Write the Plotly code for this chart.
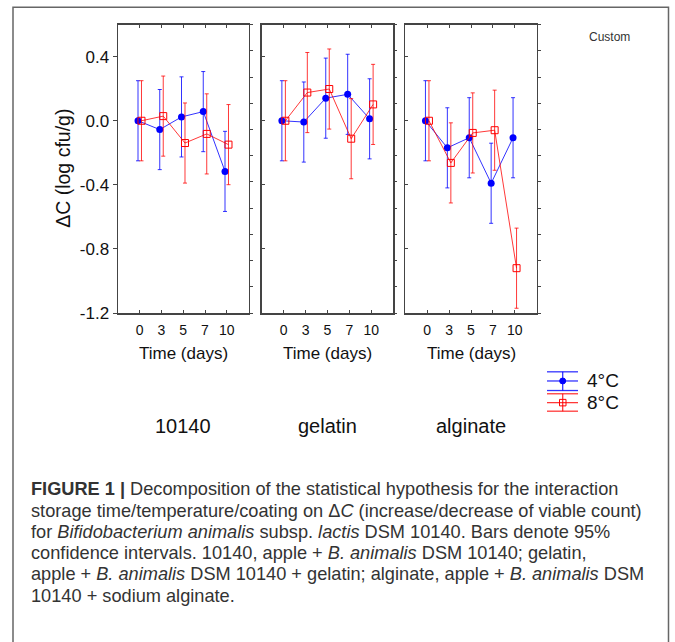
import plotly.graph_objects as go

# ---------------- data ----------------
days = ["0", "3", "5", "7", "10"]
coatings = ["10140", "gelatin", "alginate"]

dc_4C_10140 = [0.0, -0.055, 0.024, 0.057, -0.316]
dc_8C_10140 = [0.0, 0.029, -0.139, -0.082, -0.149]
dc_4C_gelatin = [0.0, -0.008, 0.141, 0.165, 0.012]
dc_8C_gelatin = [0.0, 0.176, 0.198, -0.112, 0.102]
dc_4C_alginate = [0.0, -0.169, -0.106, -0.390, -0.106]
dc_8C_alginate = [0.0, -0.263, -0.076, -0.059, -0.920]
ci95 = [0.25, 0.25, 0.25, 0.25, 0.25]

y_ticks = [-1.2, -0.8, -0.4, 0.0, 0.4]
y_tick_labels = ["-1.2", "-0.8", "-0.4", "0.0", "0.4"]

series_labels = ["4°C", "8°C"]

caption_lines = [
    "<b>FIGURE 1 |</b> Decomposition of the statistical hypothesis for the interaction",
    "storage time/temperature/coating on Δ<i>C</i> (increase/decrease of viable count)",
    "for <i>Bifidobacterium animalis</i> subsp. <i>lactis</i> DSM 10140. Bars denote 95%",
    "confidence intervals. 10140, apple + <i>B. animalis</i> DSM 10140; gelatin,",
    "apple + <i>B. animalis</i> DSM 10140 + gelatin; alginate, apple + <i>B. animalis</i> DSM",
    "10140 + sodium alginate.",
]

# ---------------- layout helpers ----------------
W, H = 675, 642
FONT = "Arial, Liberation Sans, sans-serif"
BLUE = "#0000ff"
BLUE_L = "rgba(0,0,255,0.8)"
RED = "#ff0000"
RED_L = "rgba(255,0,0,0.78)"
FRAME = "#444444"


def px(x):
    return x / W


def py(y):
    return 1 - y / H


panel_px = [(118, 248.5), (261.7, 393.3), (405.3, 536.7)]
y_dom = [py(318), py(25)]

values_4 = [dc_4C_10140, dc_4C_gelatin, dc_4C_alginate]
values_8 = [dc_8C_10140, dc_8C_gelatin, dc_8C_alginate]

fig = go.Figure()
idx = list(range(len(days)))
off = 0.08

layout_axes = {}
for k in range(3):
    sfx = "" if k == 0 else str(k + 1)
    xa, ya = "x" + sfx, "y" + sfx
    fig.add_trace(go.Scatter(
        x=[i - off for i in idx], y=values_4[k], mode="lines+markers",
        line=dict(color=BLUE_L, width=1),
        marker=dict(symbol="circle", size=7, color=BLUE),
        error_y=dict(type="data", array=ci95, color=BLUE_L, thickness=1, width=2),
        xaxis=xa, yaxis=ya, showlegend=False, name=series_labels[0]))
    fig.add_trace(go.Scatter(
        x=[i + off for i in idx], y=values_8[k], mode="lines+markers",
        line=dict(color=RED_L, width=1),
        marker=dict(symbol="square-open", size=7, color=RED, line=dict(width=1, color=RED)),
        error_y=dict(type="data", array=ci95, color=RED_L, thickness=1, width=2),
        xaxis=xa, yaxis=ya, showlegend=False, name=series_labels[1]))
    # right-side tick axis (11 divisions)
    rname = "y" + str(k + 4)
    fig.add_trace(go.Scatter(x=[None], y=[None], xaxis=xa, yaxis=rname,
                             showlegend=False, hoverinfo="skip"))

    x0, x1 = panel_px[k]
    layout_axes["xaxis" + sfx] = dict(
        domain=[px(x0), px(x1)], range=[-1, 5], anchor=ya,
        tickvals=idx, ticktext=days, ticks="inside", ticklen=3,
        tickcolor=FRAME, tickwidth=1,
        showline=True, linecolor=FRAME, linewidth=1.5, mirror="ticks",
        showgrid=False, zeroline=False, fixedrange=True,
        tickfont=dict(family=FONT, size=14, color="#111"),
        ticklabelstandoff=4)
    ycfg = dict(
        domain=y_dom, range=[-1.2, 0.6], anchor=xa,
        tickvals=y_ticks, ticktext=y_tick_labels,
        showline=True, linecolor=FRAME, linewidth=1.5, mirror=True,
        showgrid=False, zeroline=False, tickcolor=FRAME, tickwidth=1,
        fixedrange=True,
        tickfont=dict(family=FONT, size=17, color="#111"))
    if k == 0:
        ycfg.update(ticks="outside", ticklen=4, showticklabels=True)
    else:
        ycfg.update(ticks="inside", ticklen=3, showticklabels=False)
    layout_axes["yaxis" + sfx] = ycfg
    layout_axes["yaxis" + str(k + 4)] = dict(
        overlaying=ya, anchor=xa, side="right", range=[0, 11], dtick=1,
        ticks="outside", ticklen=3, tickcolor=FRAME, tickwidth=1, fixedrange=True,
        showticklabels=False, showline=False, showgrid=False, zeroline=False)

annotations = []
# y-axis title
annotations.append(dict(x=px(63), y=py(171.5), xref="paper", yref="paper",
                        text="ΔC (log cfu/g)", textangle=-90, showarrow=False,
                        font=dict(family=FONT, size=19.5, color="#111"),
                        xanchor="center", yanchor="middle"))
for k in range(3):
    cx = (panel_px[k][0] + panel_px[k][1]) / 2
    annotations.append(dict(x=px(cx), y=py(359), xref="paper", yref="paper",
                            text="Time (days)", showarrow=False,
                            font=dict(family=FONT, size=17, color="#111"),
                            xanchor="center", yanchor="middle"))
    annotations.append(dict(x=px(cx), y=py(433), xref="paper", yref="paper",
                            text=coatings[k], showarrow=False,
                            font=dict(family=FONT, size=20, color="#111"),
                            xanchor="center", yanchor="middle"))
# legend texts
for lab, yy in zip(series_labels, [387, 409]):
    annotations.append(dict(x=px(585), y=py(yy), xref="paper", yref="paper",
                            text=lab, showarrow=False,
                            font=dict(family=FONT, size=19, color="#111"),
                            xanchor="left", yanchor="middle"))
# "Custom" label
annotations.append(dict(x=px(587), y=py(37.5), xref="paper", yref="paper",
                        text="Custom", showarrow=False,
                        font=dict(family=FONT, size=12, color="#333"),
                        xanchor="left", yanchor="middle"))
# caption, one annotation per line
for j, line in enumerate(caption_lines):
    annotations.append(dict(x=px(29), y=py(497 + 21.6 * j), xref="paper", yref="paper",
                            text=line, showarrow=False, align="left",
                            font=dict(family=FONT, size=18.2, color="#333"),
                            xanchor="left", yanchor="middle"))

shapes = []
# outer figure frame
shapes.append(dict(type="rect", xref="paper", yref="paper",
                   x0=px(13), x1=px(668.5), y0=py(680), y1=py(7.3),
                   line=dict(color="#666666", width=1.5)))
# legend symbols
for (yt, yc, yb), lc, mc, filled in [((377.7, 387, 396.7), BLUE_L, BLUE, True),
                                     ((400, 409, 417.7), RED_L, RED, False)]:
    for yy in (yt, yc, yb):
        shapes.append(dict(type="line", xref="paper", yref="paper",
                           x0=px(547), x1=px(578), y0=py(yy), y1=py(yy),
                           line=dict(color=lc, width=1.3)))
    shapes.append(dict(type="line", xref="paper", yref="paper",
                       x0=px(562.7), x1=px(562.7), y0=py(yt), y1=py(yb),
                       line=dict(color=lc, width=1.3)))
    if filled:
        shapes.append(dict(type="circle", xref="paper", yref="paper",
                           x0=px(559.7), x1=px(565.7), y0=py(390), y1=py(384),
                           fillcolor=mc, line=dict(color=mc, width=1)))
    else:
        shapes.append(dict(type="rect", xref="paper", yref="paper",
                           x0=px(559.5), x1=px(566), y0=py(412.3), y1=py(405.7),
                           fillcolor="rgba(0,0,0,0)", line=dict(color=mc, width=1)))

fig.update_layout(
    width=W, height=H, margin=dict(l=0, r=0, t=0, b=0),
    paper_bgcolor="white", plot_bgcolor="white",
    showlegend=False, hovermode=False,
    annotations=annotations, shapes=shapes,
    font=dict(family=FONT, color="#111"),
    **layout_axes)

# remove the default page margin and any overflow below the figure so the
# page is exactly the size of the figure
post = (
    "document.documentElement.style.margin='0px';"
    "document.body.style.margin='0px';"
    "document.documentElement.style.overflow='hidden';"
    "document.body.style.overflow='hidden';"
    "var gd=document.getElementById('{plot_id}');"
    "gd.style.overflow='hidden';"
    "var sc=gd.querySelectorAll('.svg-container');"
    "for(var i=0;i<sc.length;i++){sc[i].style.verticalAlign='top';sc[i].style.display='block';}"
    "if(gd.parentElement){gd.parentElement.style.height='642px';gd.parentElement.style.overflow='hidden';}"
    "document.body.style.height='642px';"
    "document.documentElement.style.height='642px';"
)
fig.write_html("out.html", config={"displayModeBar": False, "staticPlot": True},
               post_script=post)
